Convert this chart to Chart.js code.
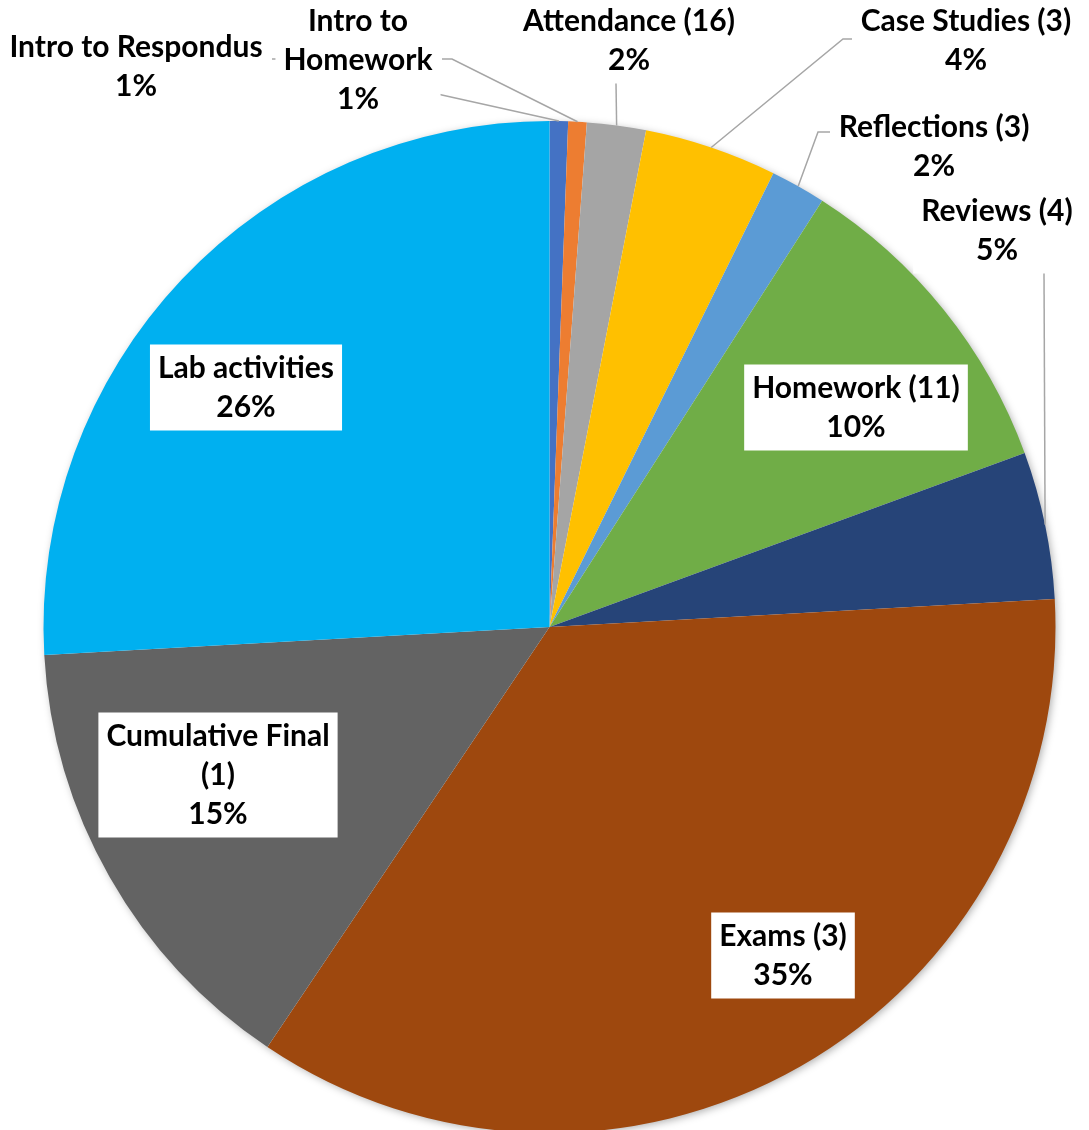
<!DOCTYPE html>
<html>
<head>
<meta charset="utf-8">
<script src="https://cdn.jsdelivr.net/npm/chart.js@4/dist/chart.umd.min.js"></script>
<style>
  html, body { margin: 0; padding: 0; background: #fff; overflow: hidden; }
  #wrap { width: 1089px; height: 1140px; }
</style>
</head>
<body>
<div id="wrap"><canvas id="pie" width="1089" height="1140"></canvas></div>
<script>
// course grade breakdown, points per category
var categories = ["Intro to Respondus", "Intro to Homework", "Attendance (16)", "Case Studies (3)",
    "Reflections (3)", "Homework (11)", "Reviews (4)", "Exams (3)", "Cumulative Final (1)", "Lab activities"];
var points = [5, 5, 16, 36, 15, 88, 40, 300, 125, 220];
var sliceColors = ["#4472C4", "#ED7D31", "#A5A5A5", "#FFC000", "#5B9BD5",
    "#70AD47", "#264478", "#9E480E", "#636363", "#00B0F0"];

// where each data label sits (first line centre) and its leader line start
var labelLayout = [
    { x: 136, y: 47, leader: [[272, 59], [280, 59]] },
    { x: 358, y: 21, lines: ["Intro to", "Homework"], leader: [[442, 59], [452, 59]] },
    { x: 629, y: 21, leader: [[616, 83]] },
    { x: 966, y: 21, leader: [[852, 39], [843, 39]] },
    { x: 934, y: 127, leader: [[830, 132], [818, 132]] },
    { x: 856, y: 388 },
    { x: 997, y: 211, leader: [[1044, 272]] },
    { x: 783, y: 936 },
    { x: 218, y: 736, lines: ["Cumulative Final", "(1)"] },
    { x: 246, y: 368 }
];

var FONT = "bold 30px Lato";
var LINE_H = 39;

var total = points.reduce(function (a, b) { return a + b; }, 0);

var pieShadow = {
    id: "pieShadow",
    beforeDatasetsDraw: function (chart) {
        var arc = chart.getDatasetMeta(0).data[0];
        var ctx = chart.ctx;
        ctx.save();
        ctx.shadowColor = "rgba(0,0,0,0.35)";
        ctx.shadowBlur = 9;
        ctx.shadowOffsetX = 2;
        ctx.shadowOffsetY = 2;
        ctx.fillStyle = "#fff";
        ctx.beginPath();
        ctx.arc(arc.x, arc.y, arc.outerRadius - 1, 0, Math.PI * 2);
        ctx.fill();
        ctx.restore();
    }
};

var sliceLabels = {
    id: "sliceLabels",
    afterDraw: function (chart) {
        var ctx = chart.ctx;
        var arcs = chart.getDatasetMeta(0).data;
        ctx.save();
        // leader lines first so label boxes can sit on top
        ctx.strokeStyle = "#A6A6A6";
        ctx.lineWidth = 1.5;
        labelLayout.forEach(function (lay, i) {
            if (!lay.leader) return;
            var a = arcs[i];
            var mid = (a.startAngle + a.endAngle) / 2;
            var ex = a.x + Math.cos(mid) * a.outerRadius;
            var ey = a.y + Math.sin(mid) * a.outerRadius;
            ctx.beginPath();
            ctx.moveTo(lay.leader[0][0], lay.leader[0][1]);
            for (var k = 1; k < lay.leader.length; k++) ctx.lineTo(lay.leader[k][0], lay.leader[k][1]);
            ctx.lineTo(ex, ey);
            ctx.stroke();
        });

        ctx.font = FONT;
        ctx.textAlign = "center";
        ctx.textBaseline = "middle";
        labelLayout.forEach(function (lay, i) {
            var lines = (lay.lines || [categories[i]]).slice();
            lines.push(Math.round(points[i] / total * 100) + "%");
            var w = 0;
            lines.forEach(function (t) { w = Math.max(w, ctx.measureText(t).width); });
            var top = lay.y - LINE_H / 2 - 4;
            ctx.fillStyle = "#fff";
            ctx.fillRect(lay.x - w / 2 - 8, top, w + 16, lines.length * LINE_H + 8);
            ctx.fillStyle = "#000";
            lines.forEach(function (t, j) {
                ctx.fillText(t, lay.x, lay.y + j * LINE_H);
            });
        });
        ctx.restore();
    }
};

new Chart(document.getElementById("pie").getContext("2d"), {
    type: "pie",
    data: {
        labels: categories,
        datasets: [{
            data: points,
            backgroundColor: sliceColors,
            borderWidth: 0
        }]
    },
    options: {
        responsive: false,
        animation: false,
        layout: { padding: { left: 43.5, right: 33.5, top: 121, bottom: 7 } },
        plugins: {
            legend: { display: false },
            tooltip: { enabled: false }
        }
    },
    plugins: [pieShadow, sliceLabels]
});
</script>
</body>
</html>
